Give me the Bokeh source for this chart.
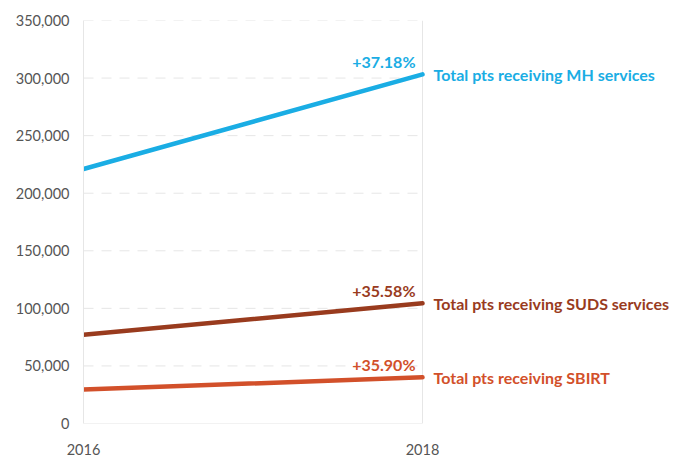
from bokeh.plotting import figure
from bokeh.models import Range1d, FixedTicker, NumeralTickFormatter, Label
from bokeh.embed import file_html
from bokeh.resources import INLINE

years = [2016, 2018]
mh = [221000, 303200]
suds = [77000, 104400]
sbirt = [29500, 40100]
series_names = ["Total pts receiving MH services", "Total pts receiving SUDS services", "Total pts receiving SBIRT"]
changes = ["+37.18%", "+35.58%", "+35.90%"]
colors = ["#1AADE4", "#993B1E", "#D2502A"]
y_ticks = [0, 50000, 100000, 150000, 200000, 250000, 300000, 350000]
x_ticks = [2016, 2018]

x0, x1 = x_ticks[0], x_ticks[-1]
p = figure(width=683, height=457, output_backend="svg", toolbar_location=None,
           x_range=Range1d(x0, x0 + 600 / 169.5), y_range=Range1d(0, 350000),
           min_border_left=83, min_border_right=0, min_border_top=20, min_border_bottom=33)
p.outline_line_color = None
p.background_fill_color = "white"

p.xaxis.ticker = FixedTicker(ticks=x_ticks)
p.yaxis.ticker = FixedTicker(ticks=y_ticks)
p.yaxis.formatter = NumeralTickFormatter(format="0,0")
for ax in (p.xaxis[0], p.yaxis[0]):
    ax.major_tick_line_color = None
    ax.minor_tick_line_color = None
    ax.major_label_text_font = "Lato"
    ax.major_label_text_font_size = "14.5px"
    ax.major_label_text_color = "#555555"
p.xaxis.axis_line_color = None
p.yaxis.axis_line_color = "#e6e6e6"
p.xaxis.major_label_standoff = 14
p.yaxis.major_label_standoff = 8
p.xgrid.grid_line_color = None
p.ygrid.grid_line_color = None

grid_y = y_ticks[1:]
p.segment(x0=[x0] * len(grid_y), x1=[x1] * len(grid_y), y0=grid_y, y1=grid_y,
          line_color="#e6e6e6", line_width=1, line_dash="10 8")
p.segment(x0=[x0], x1=[x1], y0=[y_ticks[0]], y1=[y_ticks[0]], line_color="#e6e6e6", line_width=1)
p.segment(x0=[x1], x1=[x1], y0=[y_ticks[0]], y1=[y_ticks[-1]], line_color="#e6e6e6", line_width=1)

for vals, name, ch, col in zip([mh, suds, sbirt], series_names, changes, colors):
    p.line(years, vals, line_color=col, line_width=4.5, line_cap="round")
    p.add_layout(Label(x=x1, y=vals[-1], text=ch, x_offset=-7, y_offset=3,
                       text_align="right", text_baseline="bottom",
                       text_font="Lato", text_font_style="bold",
                       text_font_size="16px", text_color=col))
    p.add_layout(Label(x=x1, y=vals[-1], text=name, x_offset=11, y_offset=0,
                       text_align="left", text_baseline="middle",
                       text_font="Lato", text_font_style="bold",
                       text_font_size="16px", text_color=col))

open("out.html", "w").write(file_html(p, INLINE))
